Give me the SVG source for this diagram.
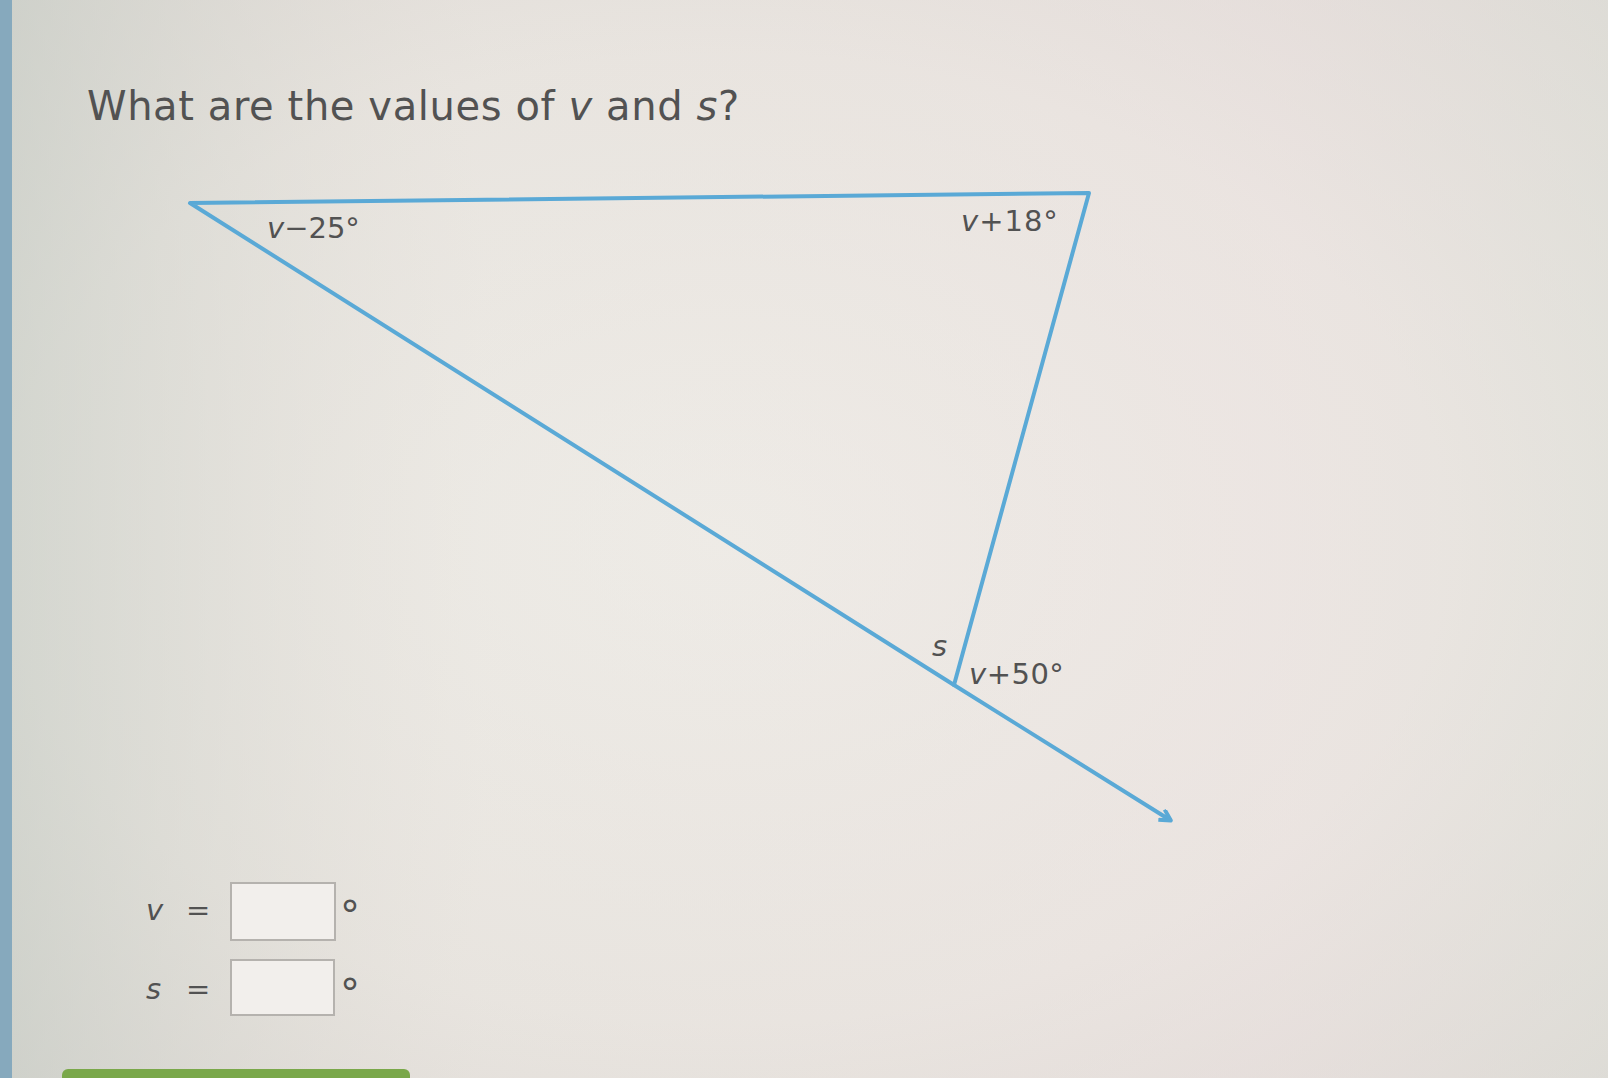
<svg xmlns="http://www.w3.org/2000/svg" width="1608" height="1078" viewBox="0 0 1608 1078">
<defs>
<radialGradient id="bg" cx="0.45" cy="0.5" r="0.75">
<stop offset="0" stop-color="#efefea"/>
<stop offset="0.6" stop-color="#e8e6e1"/>
<stop offset="1" stop-color="#d9d6d2"/>
</radialGradient>
<linearGradient id="tint" x1="0" y1="0" x2="1" y2="0">
<stop offset="0" stop-color="#c4cac2" stop-opacity="0.6"/>
<stop offset="0.3" stop-color="#e9ded8" stop-opacity="0.2"/>
<stop offset="0.8" stop-color="#f0e0e0" stop-opacity="0.35"/>
<stop offset="1" stop-color="#e4e4dc" stop-opacity="0.4"/>
</linearGradient>
<marker id="arr" markerWidth="16" markerHeight="16" refX="11" refY="7" orient="auto" markerUnits="userSpaceOnUse">
<path d="M1,1 L12,7 L1,13" fill="none" stroke="#5aa9d6" stroke-width="4" stroke-linejoin="round"/>
</marker>
<style>
.t{font-family:"DejaVu Sans","Liberation Sans",sans-serif;fill:#525252}
.lbl{font-size:29px}
.edge{stroke:#5aa9d6;stroke-width:4;fill:none;stroke-linecap:round;stroke-linejoin:round}
.box{fill:#f2efec;stroke:#b5b2ae;stroke-width:2}
.deg{font-size:40px}
</style>
</defs>
<rect width="1608" height="1078" fill="url(#bg)"/>
<rect width="1608" height="1078" fill="url(#tint)"/>
<rect x="0" y="0" width="12" height="1078" fill="#86a9bd"/>
<text class="t" x="87" y="120" font-size="40" letter-spacing="0.6">What are the values of <tspan font-style="italic">v</tspan> and <tspan font-style="italic">s</tspan>?</text>
<g id="connectors">
<path class="edge" d="M954,685 L190,203 L1089,193 Z"/>
<path class="edge" d="M954,685 L1170,820" marker-end="url(#arr)"/>
</g>
<g id="angle-a"><text class="t lbl" x="267" y="238"><tspan font-style="italic">v</tspan>−25°</text></g>
<g id="angle-b"><text class="t lbl" x="961" y="231" letter-spacing="1"><tspan font-style="italic">v</tspan>+18°</text></g>
<g id="angle-s"><text class="t lbl" x="932" y="656" font-style="italic">s</text></g>
<g id="angle-c"><text class="t lbl" x="969" y="684" letter-spacing="0.5"><tspan font-style="italic">v</tspan>+50°</text></g>
<g id="answer-v">
<text class="t" x="146" y="920" font-size="29"><tspan font-style="italic">v</tspan></text>
<text class="t" x="186" y="920" font-size="29">=</text>
<rect class="box" x="231" y="883" width="104" height="57"/>
<text class="t deg" x="340" y="930">°</text>
</g>
<g id="answer-s">
<text class="t" x="146" y="999" font-size="29"><tspan font-style="italic">s</tspan></text>
<text class="t" x="186" y="999" font-size="29">=</text>
<rect class="box" x="231" y="960" width="103" height="55" stroke="#d6d0cc"/>
<text class="t deg" x="340" y="1008">°</text>
</g>
<rect x="62" y="1069" width="348" height="20" rx="6" fill="#7aa84a"/>
</svg>
